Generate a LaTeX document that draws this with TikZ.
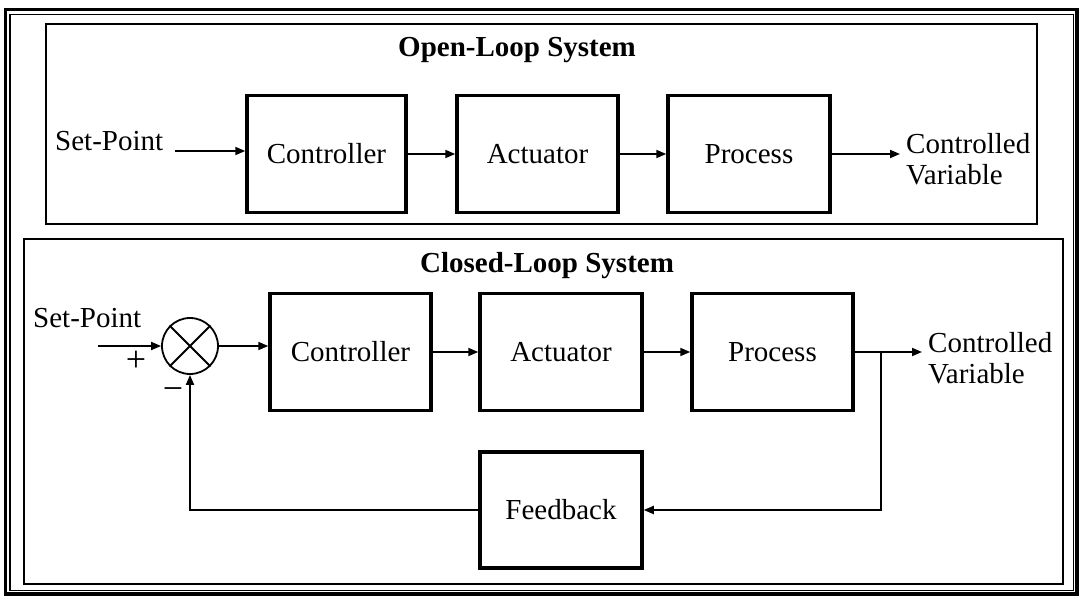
\documentclass[tikz,border=0pt]{standalone}
\usepackage{fontspec}
\setmainfont{Liberation Serif}
\usetikzlibrary{arrows.meta}
\begin{document}
\begin{tikzpicture}[x=1pt,y=-1pt,
  every node/.style={font=\fontsize{29}{31}\selectfont, inner sep=0pt},
  blk/.style={draw, line width=3.5pt, minimum height=117pt},
  conn/.style={line width=1.8pt, -{Triangle[length=10pt,width=8pt]}},
  title/.style={font=\fontsize{29}{31}\selectfont\bfseries, anchor=base west},
  lbl/.style={anchor=base west},
  sign/.style={font=\fontsize{36}{38}\selectfont},
  outl/.style={align=left, anchor=west}
]
\useasboundingbox (0,0) rectangle (1080,596);
% frames
\draw[line width=3.5pt] (5.5,9.5) rectangle (1077,594);
\draw[line width=1.5pt] (10,14.5) rectangle (1073.5,590.5);
\draw[line width=2pt] (46,24) rectangle (1037,224);
\draw[line width=2pt] (24,239) rectangle (1063,584);

% ---------- Open loop ----------
\node[title] (otitle) at (398,57) {Open-Loop System};
\node[blk, minimum width=159pt] (ocont) at (326.5,154) {Controller};
\node[blk, minimum width=161pt] (oact) at (537.5,154) {Actuator};
\node[blk, minimum width=162pt] (oproc) at (749,154) {Process};
\node[lbl] (osptext) at (55,151) {Set-Point};
\coordinate (osp) at (175,151);
\coordinate (oout) at (900,154);
\node[outl] (oouttext) at (906,159) {Controlled\\Variable};
\draw[conn] (osp) -- (osp -| ocont.west);
\draw[conn] (ocont.east) -- (oact.west);
\draw[conn] (oact.east) -- (oproc.west);
\draw[conn] (oproc.east) -- (oout);

% ---------- Closed loop ----------
\node[title] (ctitle) at (420,273) {Closed-Loop System};
\node[draw, circle, line width=1.8pt, minimum size=56pt] (sum) at (190,346) {};
\draw[line width=1.8pt] (sum.north west) -- (sum.south east);
\draw[line width=1.8pt] (sum.north east) -- (sum.south west);
\node[blk, minimum width=161pt] (ccont) at (350.5,352) {Controller};
\node[blk, minimum width=162pt] (cact) at (561,352) {Actuator};
\node[blk, minimum width=161pt] (cproc) at (772.5,352) {Process};
\node[blk, minimum width=162pt, minimum height=116pt] (fb) at (561,510) {Feedback};
\node[lbl] (csptext) at (33,327) {Set-Point};
\node[sign] (plus) at (136,361) {+};
\node[sign] (minus) at (173,394) {−};
\coordinate (csp) at (98,346);
\coordinate (cout) at (922,352);
\coordinate (junc) at (881,352);
\node[outl] (couttext) at (928,358) {Controlled\\Variable};
\draw[conn] (csp) -- (sum.west);
\draw[conn] (sum.east) -- (sum.east -| ccont.west);
\draw[conn] (ccont.east) -- (cact.west);
\draw[conn] (cact.east) -- (cproc.west);
\draw[conn] (cproc.east) -- (cout);
\draw[conn] (junc) |- (fb.east);
\draw[conn] (fb.west) -| (sum.south);
\end{tikzpicture}
\end{document}
